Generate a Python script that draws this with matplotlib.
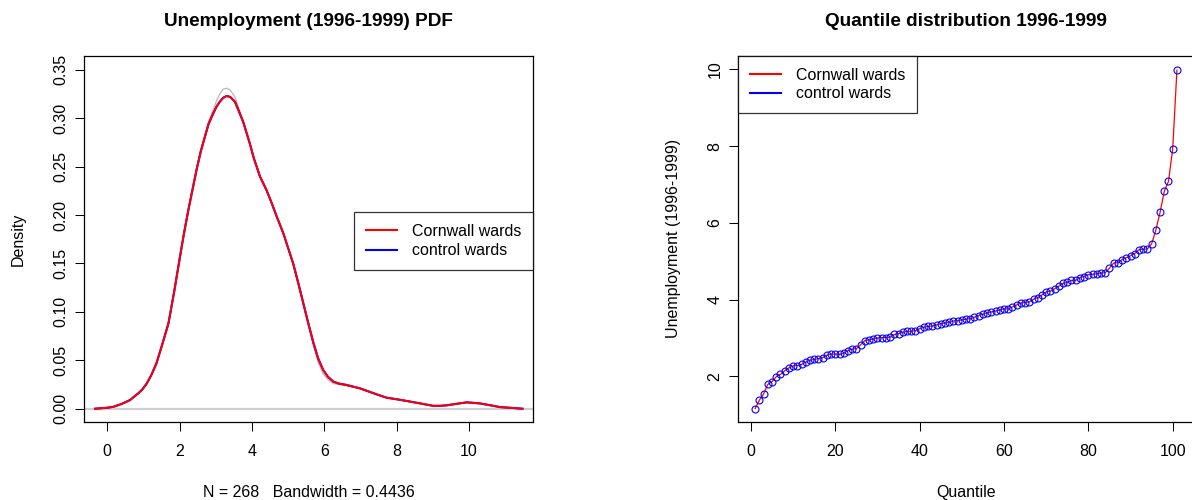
import matplotlib
matplotlib.use("Agg")
import matplotlib.pyplot as plt
from matplotlib.lines import Line2D

plt.rcParams['font.family'] = ['Liberation Sans', 'DejaVu Sans']

# ---------------- Data ----------------
# Kernel density (PDF) of unemployment 1996-1999
density_x = [-0.34, 0.0, 0.17, 0.40, 0.63, 0.86, 0.97, 1.09, 1.22, 1.36, 1.50, 1.69,
             1.85, 2.01, 2.12, 2.24, 2.36, 2.47, 2.58, 2.70, 2.80, 2.93, 3.02, 3.11,
             3.20, 3.30, 3.40, 3.53, 3.63, 3.76, 3.94, 4.05, 4.22, 4.40, 4.55, 4.68,
             4.87, 5.00, 5.14, 5.28, 5.42, 5.56, 5.70, 5.83, 5.97, 6.10, 6.25, 6.40,
             6.62, 6.99, 7.36, 7.72, 8.00, 8.28, 8.65, 9.01, 9.20, 9.38, 9.65, 9.94,
             10.30, 10.60, 10.86, 11.20, 11.48]
cornwall_density = [0.000, 0.001, 0.002, 0.005, 0.009, 0.016, 0.020, 0.026, 0.035, 0.047,
                    0.064, 0.088, 0.121, 0.157, 0.181, 0.205, 0.227, 0.247, 0.265, 0.281,
                    0.294, 0.305, 0.312, 0.317, 0.321, 0.323, 0.322, 0.317, 0.308, 0.296,
                    0.274, 0.259, 0.240, 0.226, 0.212, 0.199, 0.181, 0.166, 0.150, 0.130,
                    0.109, 0.088, 0.068, 0.052, 0.040, 0.033, 0.028, 0.026, 0.0245, 0.021,
                    0.016, 0.0114, 0.0098, 0.008, 0.0055, 0.003, 0.0030, 0.0035, 0.0050,
                    0.0066, 0.0055, 0.0035, 0.0017, 0.0008, 0.000]
control_density = [0.000, 0.001, 0.002, 0.005, 0.009, 0.016, 0.020, 0.026, 0.035, 0.047,
                   0.064, 0.088, 0.121, 0.157, 0.181, 0.205, 0.227, 0.247, 0.265, 0.281,
                   0.294, 0.305, 0.312, 0.317, 0.321, 0.323, 0.322, 0.317, 0.308, 0.296,
                   0.274, 0.259, 0.240, 0.226, 0.212, 0.199, 0.181, 0.166, 0.150, 0.130,
                   0.109, 0.088, 0.068, 0.052, 0.040, 0.033, 0.028, 0.026, 0.0245, 0.021,
                   0.016, 0.0114, 0.0098, 0.008, 0.0055, 0.003, 0.0030, 0.0035, 0.0050,
                   0.0066, 0.0055, 0.0035, 0.0017, 0.0008, 0.000]
all_density = [0.000, 0.001, 0.002, 0.005, 0.009, 0.016, 0.020, 0.026, 0.035, 0.047,
               0.064, 0.088, 0.121, 0.157, 0.181, 0.205, 0.228, 0.248, 0.267, 0.283,
               0.297, 0.309, 0.318, 0.325, 0.330, 0.331, 0.329, 0.322, 0.311, 0.297,
               0.274, 0.259, 0.240, 0.226, 0.212, 0.199, 0.181, 0.166, 0.149, 0.128,
               0.107, 0.086, 0.065, 0.048, 0.036, 0.030, 0.026, 0.025, 0.0235, 0.021,
               0.016, 0.0114, 0.0098, 0.008, 0.0055, 0.003, 0.0030, 0.0035, 0.0050,
               0.0066, 0.0055, 0.0035, 0.0017, 0.0008, 0.000]

# Quantiles 1..101 of unemployment 1996-1999
quantile_idx = list(range(1, 102))
cornwall_q = [1.16, 1.38, 1.54, 1.79, 1.86, 1.99, 2.05, 2.14, 2.22, 2.27,
              2.28, 2.31, 2.37, 2.42, 2.44, 2.46, 2.49, 2.55, 2.58, 2.58,
              2.57, 2.60, 2.67, 2.71, 2.72, 2.82, 2.93, 2.95, 2.97, 3.00,
              3.01, 3.01, 3.02, 3.09, 3.11, 3.15, 3.17, 3.17, 3.19, 3.24,
              3.28, 3.30, 3.31, 3.34, 3.37, 3.39, 3.41, 3.44, 3.45, 3.47,
              3.49, 3.50, 3.54, 3.58, 3.62, 3.65, 3.68, 3.70, 3.73, 3.76,
              3.75, 3.81, 3.86, 3.91, 3.92, 3.94, 4.01, 4.05, 4.12, 4.20,
              4.22, 4.28, 4.35, 4.42, 4.45, 4.50, 4.50, 4.57, 4.60, 4.65,
              4.66, 4.67, 4.69, 4.70, 4.82, 4.95, 4.96, 5.04, 5.09, 5.14,
              5.20, 5.30, 5.31, 5.32, 5.45, 5.81, 6.27, 6.82, 7.08, 7.93, 9.98]
control_q = list(cornwall_q)

series_labels = ["Cornwall wards", "control wards"]
left_xticks = [0, 2, 4, 6, 8, 10]
left_yticks = [0.00, 0.05, 0.10, 0.15, 0.20, 0.25, 0.30, 0.35]
left_yticklabels = ["0.00", "0.05", "0.10", "0.15", "0.20", "0.25", "0.30", "0.35"]
right_xticks = [0, 20, 40, 60, 80, 100]
right_yticks = [2, 4, 6, 8, 10]

# ---------------- Figure ----------------
W, H = 1192, 500
fig = plt.figure(figsize=(W / 100, H / 100), dpi=100)

def px_axes(x0, y0, x1, y1):
    return fig.add_axes([x0 / W, 1 - y1 / H, (x1 - x0) / W, (y1 - y0) / H])

FS = 11.5
TFS = 13.7

def style(ax):
    for s in ax.spines.values():
        s.set_linewidth(0.9)
        s.set_color('black')
    ax.tick_params(direction='out', length=6.5, width=0.75, colors='black',
                   labelsize=FS, pad=9.5)
    ax.tick_params(axis='y', labelrotation=90, pad=5)
    for lbl in ax.get_yticklabels():
        lbl.set_va('center')

LABEL_Y = -(497.0 - 421.7) / 365.7

# ----- Left: density -----
ax1 = px_axes(84.3, 56, 533.3, 421.7)
ax1.axhline(0, color='#d0d0d0', lw=1.6, zorder=1)
ax1.plot(density_x, all_density, color='#b8b8b8', lw=0.9, zorder=2)
ax1.plot(density_x, control_density, color='blue', lw=1.5, zorder=3)
ax1.plot(density_x, cornwall_density, color='red', lw=1.4, zorder=4)
ax1.set_xlim(-0.636, 11.78)
ax1.set_ylim(-0.0134, 0.3643)
ax1.set_xticks(left_xticks)
ax1.set_yticks(left_yticks)
ax1.set_yticklabels(left_yticklabels)
style(ax1)
ax1.set_title("Unemployment (1996-1999) PDF", fontsize=TFS, fontweight='bold',
              y=1 + 30 / 365.7, va='baseline', pad=0)
ax1.set_xlabel("N = 268   Bandwidth = 0.4436", fontsize=FS, va='baseline')
ax1.xaxis.set_label_coords(0.5, LABEL_Y)
ax1.set_ylabel("Density", fontsize=FS, va='center')
ax1.yaxis.set_label_coords(-(84.3 - 18.3) / 449.0, 0.5)

handles = [Line2D([], [], color='red', lw=1.5), Line2D([], [], color='blue', lw=1.5)]
leg1 = ax1.legend(handles, series_labels, loc='upper right',
                  bbox_to_anchor=(1.0, 1 - (211.7 - 56) / 365.7), fontsize=FS,
                  frameon=True, fancybox=False, edgecolor='black', borderpad=0.75,
                  handlelength=1.9, handletextpad=0.95, labelspacing=0.28,
                  borderaxespad=0)
leg1.get_frame().set_linewidth(0.9)

# ----- Right: quantiles -----
ax2 = px_axes(738.3, 56, 1193.8, 421.7)
ax2.plot(quantile_idx, cornwall_q, color='red', lw=0.9, zorder=2)
ax2.plot(quantile_idx, control_q, linestyle='none', marker='o', markersize=5,
         markerfacecolor='none', markeredgecolor='blue', markeredgewidth=0.8, zorder=3)
ax2.set_xlim(-3, 105)
ax2.set_ylim(0.817, 10.347)
ax2.set_xticks(right_xticks)
ax2.set_yticks(right_yticks)
style(ax2)
ax2.set_title("Quantile distribution 1996-1999", fontsize=TFS, fontweight='bold',
              y=1 + 30 / 365.7, va='baseline', pad=0)
ax2.set_xlabel("Quantile", fontsize=FS, va='baseline')
ax2.xaxis.set_label_coords(0.5, LABEL_Y)
ax2.set_ylabel("Unemployment (1996-1999)", fontsize=FS, va='center')
ax2.yaxis.set_label_coords(-(738.3 - 673.3) / 455.5, 0.5)

handles2 = [Line2D([], [], color='red', lw=1.5), Line2D([], [], color='blue', lw=1.5)]
leg2 = ax2.legend(handles2, series_labels, loc='upper left',
                  bbox_to_anchor=(0.0, 1.0), fontsize=FS,
                  frameon=True, fancybox=False, edgecolor='black', borderpad=0.75,
                  handlelength=1.9, handletextpad=0.95, labelspacing=0.2,
                  borderaxespad=0)
leg2.get_frame().set_linewidth(0.9)

fig.savefig("out.png", dpi=100)
